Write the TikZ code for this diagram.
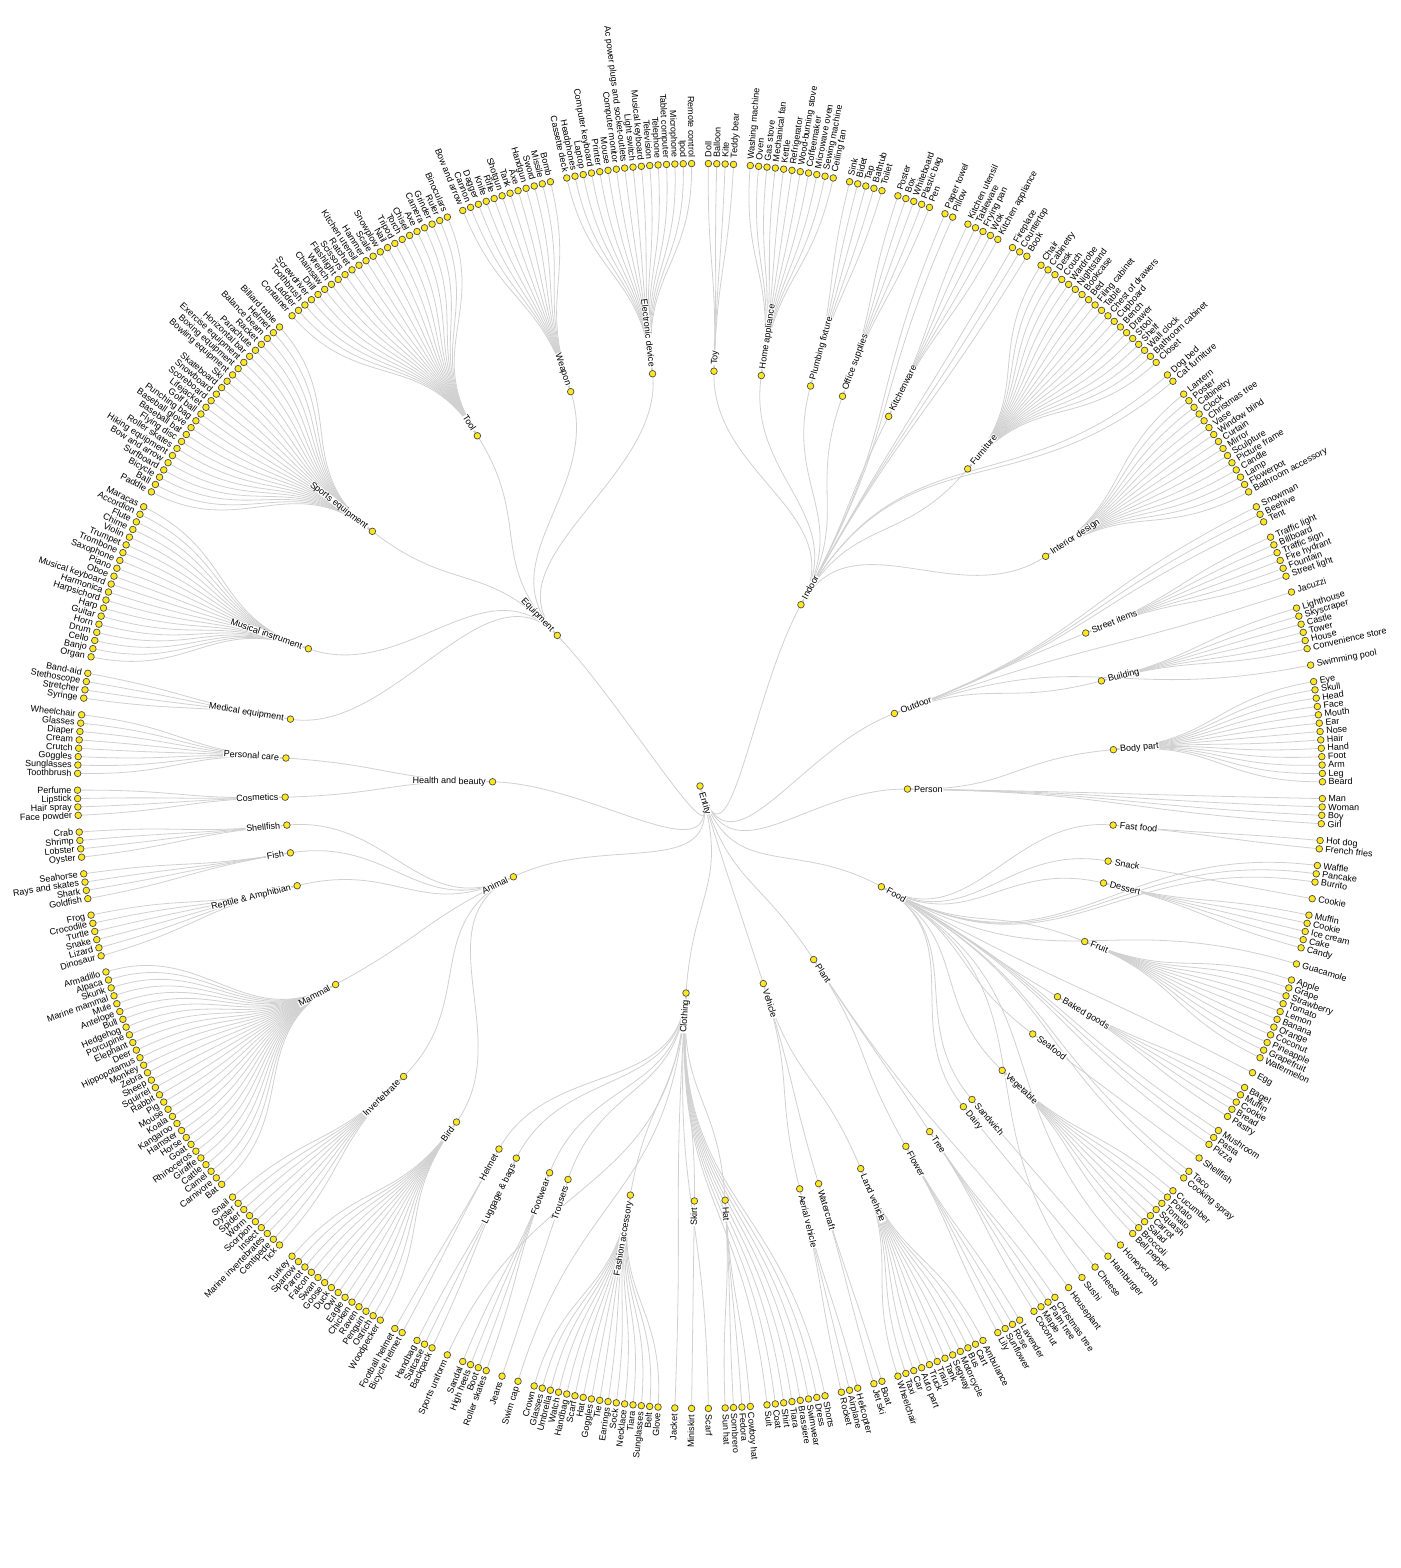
\documentclass[tikz,border=0pt]{standalone}
\usepackage{fontspec}
\setmainfont{Liberation Sans}
\pgfdeclarelayer{back}
\pgfdeclarelayer{bg}
\pgfsetlayers{back,bg,main}
\definecolor{dotyellow}{RGB}{255,232,30}
\newcount\slotc
\def\uu{0.772532}
\def\RL{622.5}
\tikzset{
  dot/.style={circle,draw=black!70,fill=dotyellow,line width=0.7pt,minimum size=6.6pt,inner sep=0pt},
  lnk/.style={draw=black!18,line width=0.8pt},
  lbl/.style={inner sep=0pt,text height=6.3pt,text depth=0.5pt,font=\fontsize{9}{10}\selectfont},
  ilbl/.style={lbl,fill=white,inner xsep=0.6pt}
}
% label outward from a node at angle #2, radius #3
\newcommand\putlabel[5]{%
  \pgfmathsetmacro\lr{#3+6}%
  \pgfmathtruncatemacro\side{cos(#2)>=0}%
  \ifnum\side=1
    \node[#5,anchor=west,rotate=#2] (#1) at (#2:\lr pt) {#4};
  \else
    \pgfmathsetmacro\rt{#2+180}%
    \node[#5,anchor=east,rotate=\rt] (#1) at (#2:\lr pt) {#4};
  \fi
}
\newcommand\placeleaf[1]{%
  \pgfmathsetmacro\la{90-(\the\slotc+1)*\uu}%
  \edef\nm{L\the\slotc}%
  \node[dot] (\nm) at (\la:\RL pt) {};
  \putlabel{\nm t}{\la}{\RL}{#1}{lbl}%
}
% depth-1 node: #1 name, #2 mean slot, #3 label
\newcommand\dnode[3]{%
  \pgfmathsetmacro\da{90-(#2+1)*\uu}%
  \node[dot] (#1) at (\da:207.5pt) {};
  \putlabel{#1t}{\da}{207.5}{#3}{ilbl}%
  \expandafter\xdef\csname ang@#1\endcsname{\da}%
  \begin{pgfonlayer}{bg}
    \draw[lnk] (root.center) .. controls (\rootang:103.75pt) and (\da:103.75pt) .. (#1.center);
  \end{pgfonlayer}
}
% group of leaves under a depth-2 node: #1 parent, #2 name, #3 label, #4 leaves
\newcommand\grp[4]{%
  \global\advance\slotc by 1
  \edef\sA{\the\slotc}%
  \foreach \lab in {#4} {\placeleaf{\lab}\global\advance\slotc by 1 }%
  \pgfmathtruncatemacro\sB{\slotc-1}%
  \pgfmathsetmacro\ga{90-((\sA+\sB)/2+1)*\uu}%
  \node[dot] (#2) at (\ga:415pt) {};
  \putlabel{#2t}{\ga}{415}{#3}{ilbl}%
  \edef\pa{\csname ang@#1\endcsname}%
  \begin{pgfonlayer}{bg}
    \foreach \k in {\sA,...,\sB} {
      \pgfmathsetmacro\la{90-(\k+1)*\uu}
      \draw[lnk] (#2.center) .. controls (\ga:518.75pt) and (\la:518.75pt) .. (L\k.center);
    }
    \draw[lnk] (#1.center) .. controls (\pa:311.25pt) and (\ga:311.25pt) .. (#2.center);
  \end{pgfonlayer}
}
% leaves directly under a depth-1 node: #1 parent, #2 leaves
\newcommand\drun[2]{%
  \global\advance\slotc by 1
  \edef\sA{\the\slotc}%
  \foreach \lab in {#2} {\placeleaf{\lab}\global\advance\slotc by 1 }%
  \pgfmathtruncatemacro\sB{\slotc-1}%
  \edef\pa{\csname ang@#1\endcsname}%
  \begin{pgfonlayer}{bg}
    \foreach \k in {\sA,...,\sB} {
      \pgfmathsetmacro\la{90-(\k+1)*\uu}
      \draw[lnk] (#1.center) .. controls (\pa:415pt) and (\la:415pt) .. (L\k.center);
    }
  \end{pgfonlayer}
}
\begin{document}
\begin{tikzpicture}
\begin{pgfonlayer}{back}
  \fill[white] (-700pt,-782pt) rectangle (700pt,786pt);
\end{pgfonlayer}
\useasboundingbox (-700pt,-782pt) rectangle (700pt,786pt);
\pgfmathsetmacro\rootang{90-(210.404048+1)*\uu}
\node[dot] (root) at (0,0) {};
\putlabel{roott}{\rootang}{0}{Entity}{ilbl}
\dnode{indoor}{36.678571}{Indoor}
\dnode{outdoor}{89}{Outdoor}
\dnode{person}{116.6}{Person}
\dnode{food}{153.095238}{Food}
\dnode{plant}{189}{Plant}
\dnode{vehicle}{209}{Vehicle}
\dnode{clothing}{237}{Clothing}
\dnode{animal}{314.916667}{Animal}
\dnode{hb}{350}{Health and beauty}
\dnode{equipment}{408.75}{Equipment}
\global\slotc=-1
% Indoor
\grp{indoor}{toy}{Toy}{Doll,Balloon,Kite,Teddy bear}
\grp{indoor}{homeapp}{Home appliance}{Washing machine,Oven,Gas stove,Mechanical fan,Kettle,Refrigerator,Wood-burning stove,Coffeemaker,Microwave oven,Sewing machine,Ceiling fan}
\grp{indoor}{plumbing}{Plumbing fixture}{Sink,Bidet,Tap,Bathtub,Toilet}
\grp{indoor}{office}{Office supplies}{Poster,Box,Whiteboard,Plastic bag,Pen}
\drun{indoor}{Paper towel,Pillow}
\grp{indoor}{kitchenware}{Kitchenware}{Kitchen utensil,Tableware,Frying pan,Wok,Kitchen appliance}
\drun{indoor}{Fireplace,Countertop,Book}
\grp{indoor}{furniture}{Furniture}{Chair,Cabinetry,Desk,Couch,Wardrobe,Nightstand,Bookcase,Bed,Filing cabinet,Table,Chest of drawers,Cupboard,Bench,Drawer,Stool,Shelf,Wall clock,Bathroom cabinet,Closet}
\drun{indoor}{Dog bed,Cat furniture}
\grp{indoor}{interior}{Interior design}{Lantern,Poster,Cabinetry,Clock,Christmas tree,Vase,Window blind,Curtain,Mirror,Sculpture,Picture frame,Candle,Lamp,Flowerpot,Bathroom accessory}
% Outdoor
\drun{outdoor}{Snowman,Beehive,Tent}
\grp{outdoor}{street}{Street items}{Traffic light,Billboard,Traffic sign,Fire hydrant,Fountain,Street light}
\drun{outdoor}{Jacuzzi}
\grp{outdoor}{building}{Building}{Lighthouse,Skyscraper,Castle,Tower,House,Convenience store}
\drun{outdoor}{Swimming pool}
% Person
\grp{person}{bodypart}{Body part}{Eye,Skull,Head,Face,Mouth,Ear,Nose,Hair,Hand,Foot,Arm,Leg,Beard}
\drun{person}{Man,Woman,Boy,Girl}
% Food
\grp{food}{fastfood}{Fast food}{Hot dog,French fries}
\drun{food}{Waffle,Pancake,Burrito}
\grp{food}{snack}{Snack}{Cookie}
\grp{food}{dessert}{Dessert}{Muffin,Cookie,Ice cream,Cake,Candy}
\drun{food}{Guacamole}
\grp{food}{fruit}{Fruit}{Apple,Grape,Strawberry,Tomato,Lemon,Banana,Orange,Coconut,Pineapple,Grapefruit,Watermelon}
\drun{food}{Egg}
\grp{food}{baked}{Baked goods}{Bagel,Muffin,Cookie,Bread,Pastry}
\drun{food}{Mushroom,Pasta,Pizza}
\grp{food}{seafood}{Seafood}{Shellfish}
\drun{food}{Taco,Cooking spray}
\grp{food}{vegetable}{Vegetable}{Cucumber,Potato,Tomato,Squash,Carrot,Salad,Broccoli,Bell pepper}
\drun{food}{Honeycomb}
\grp{food}{sandwich}{Sandwich}{Hamburger}
\grp{food}{dairy}{Dairy}{Cheese}
\drun{food}{Sushi}
% Plant
\drun{plant}{Houseplant}
\grp{plant}{tree}{Tree}{Christmas tree,Palm tree,Maple,Coconut}
\grp{plant}{flower}{Flower}{Lavender,Rose,Sunflower,Lily}
% Vehicle
\grp{vehicle}{land}{Land vehicle}{Ambulance,Cart,Bus,Motorcycle,Segway,Tank,Train,Truck,Auto part,Car,Taxi,Wheelchair}
\grp{vehicle}{watercraft}{Watercraft}{Boat,Jet ski}
\grp{vehicle}{aerial}{Aerial vehicle}{Helicopter,Airplane,Rocket}
% Clothing
\drun{clothing}{Shorts,Dress,Swimwear,Brassiere,Tiara,Shirt,Coat,Suit}
\grp{clothing}{hat}{Hat}{Cowboy hat,Fedora,Sombrero,Sun hat}
\drun{clothing}{Scarf}
\grp{clothing}{skirt}{Skirt}{Miniskirt}
\drun{clothing}{Jacket}
\grp{clothing}{fashion}{Fashion accessory}{Glove,Belt,Sunglasses,Tiara,Necklace,Sock,Earrings,Tie,Goggles,Hat,Scarf,Handbag,Watch,Umbrella,Glasses,Crown}
\drun{clothing}{Swim cap}
\grp{clothing}{trousers}{Trousers}{Jeans}
\grp{clothing}{footwear}{Footwear}{Roller skates,Boot,High heels,Sandal}
\drun{clothing}{Sports uniform}
\grp{clothing}{luggage}{Luggage \& bags}{Backpack,Suitcase,Handbag}
\grp{clothing}{helmet}{Helmet}{Bicycle helmet,Football helmet}
% Animal
\grp{animal}{bird}{Bird}{Woodpecker,Ostrich,Penguin,Raven,Chicken,Eagle,Owl,Duck,Goose,Swan,Falcon,Parrot,Sparrow,Turkey}
\grp{animal}{invert}{Invertebrate}{Tick,Centipede,Marine invertebrates,Insect,Scorpion,Worm,Spider,Oyster,Snail}
\grp{animal}{mammal}{Mammal}{Bat,Carnivore,Camel,Cattle,Giraffe,Rhinoceros,Goat,Horse,Hamster,Kangaroo,Koala,Mouse,Pig,Rabbit,Squirrel,Sheep,Zebra,Monkey,Hippopotamus,Deer,Elephant,Porcupine,Hedgehog,Bull,Antelope,Mule,Marine mammal,Skunk,Alpaca,Armadillo}
\grp{animal}{reptile}{Reptile \& Amphibian}{Dinosaur,Lizard,Snake,Turtle,Crocodile,Frog}
\grp{animal}{fish}{Fish}{Goldfish,Shark,Rays and skates,Seahorse}
\grp{animal}{shellfish}{Shellfish}{Oyster,Lobster,Shrimp,Crab}
% Health and beauty
\grp{hb}{cosmetics}{Cosmetics}{Face powder,Hair spray,Lipstick,Perfume}
\grp{hb}{personal}{Personal care}{Toothbrush,Sunglasses,Goggles,Crutch,Cream,Diaper,Glasses,Wheelchair}
% Equipment
\grp{equipment}{medical}{Medical equipment}{Syringe,Stretcher,Stethoscope,Band-aid}
\grp{equipment}{musical}{Musical instrument}{Organ,Banjo,Cello,Drum,Horn,Guitar,Harp,Harpsichord,Harmonica,Musical keyboard,Oboe,Piano,Saxophone,Trombone,Trumpet,Violin,Chime,Flute,Accordion,Maracas}
\grp{equipment}{sports}{Sports equipment}{Paddle,Ball,Bicycle,Surfboard,Bow and arrow,Hiking equipment,Roller skates,Flying disc,Baseball bat,Baseball glove,Punching bag,Golf ball,Lifejacket,Scoreboard,Snowboard,Skateboard,Ski,Bowling equipment,Boxing equipment,Exercise equipment,Horizontal bar,Parachute,Racket,Balance beam,Helmet,Billiard table}
\grp{equipment}{tool}{Tool}{Container,Ladder,Toothbrush,Screwdriver,Drill,Chainsaw,Wrench,Flashlight,Scissors,Ratchet,Kitchen utensil,Hammer,Scale,Snowplow,Nail,Tripod,Torch,Chisel,Axe,Camera,Grinder,Ruler,Binoculars}
\grp{equipment}{weapon}{Weapon}{Bow and arrow,Cannon,Dagger,Knife,Rifle,Shotgun,Tank,Axe,Handgun,Sword,Missile,Bomb}
\grp{equipment}{electronic}{Electronic device}{Cassette deck,Headphones,Laptop,Computer keyboard,Printer,Mouse,Computer monitor,Ac power plugs and socket-outlets,Light switch,Musical keyboard,Television,Telephone,Tablet computer,Microphone,Ipod,Remote control}
\end{tikzpicture}
\end{document}
